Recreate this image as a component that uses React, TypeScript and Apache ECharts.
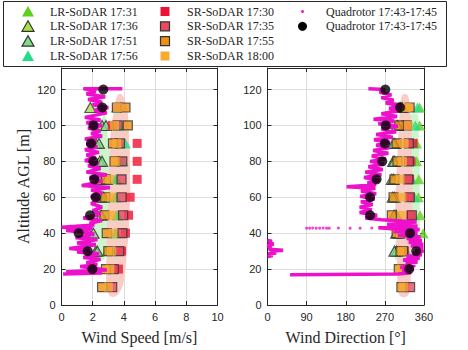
import React, { useEffect, useRef } from 'react';
import * as echarts from 'echarts';

// ---------- data ----------
const altSR = [10, 20, 30, 40, 50, 60, 70, 80, 90, 100, 110];
const altLR = [30, 40, 50, 60, 70, 80, 90, 100, 110];
const altQ = [20, 30, 40, 50, 60, 70, 80, 90, 100, 110, 120];

const lrNames = ['LR-SoDAR 17:31', 'LR-SoDAR 17:36', 'LR-SoDAR 17:51', 'LR-SoDAR 17:56'];
const srNames = ['SR-SoDAR 17:30', 'SR-SoDAR 17:35', 'SR-SoDAR 17:55', 'SR-SoDAR 18:00'];
const quadName = 'Quadrotor 17:43-17:45';

const lr1731Speed = [2.9, 3.5, 3.55, 3.45, 3.55, 3.7, 3.75, 3.6, 3.5];
const lr1736Speed = [2.2, 1.75, 2.3, 2.5, 2.45, 2.45, 2.2, 2.6, 1.85];
const lr1751Speed = [2.3, 2.05, 2.55, 2.7, 2.9, 2.6, 2.4, 2.85, 2.5];
const lr1756Speed = [3.25, 3.45, 3.6, 3.5, 3.45, 3.95, 4.1, 3.7, 3.55];

const lr1731Dir = [300, 358, 351, 347, 348, 343, 343, 350, 350];
const lr1736Dir = [297, 302, 296, 292, 286, 289, 293, 300, 310];
const lr1751Dir = [292, 296, 291, 288, 290, 292, 290, 298, 305];
const lr1756Dir = [320, 330, 335, 338, 332, 330, 335, 340, 345];

const sr1730Speed = [null, 3.65, 3.85, 4.1, 4.3, 4.4, 4.85, 4.85, 4.85, 3.25, null];
const sr1735Speed = [3.25, 3.35, 3.7, 3.9, 3.95, 3.85, 3.85, 3.9, 3.75, 3.6, 3.55];
const sr1755Speed = [2.6, 2.85, 3.0, 2.9, 2.75, 2.8, 2.85, 3.4, 3.3, 4.25, 4.1];
const sr1800Speed = [3.0, 3.1, 3.2, 3.3, 3.25, 3.2, 3.1, 3.45, 3.55, 3.4, 3.6];

const sr1730Dir = [null, 318, 315, 312, 330, 328, 327, 330, 335, 322, null];
const sr1735Dir = [328, 315, 312, 305, 332, 327, 324, 325, 325, 320, 297];
const sr1755Dir = [308, 302, 306, 297, 286, 290, 292, 299, 297, 303, 327];
const sr1800Dir = [312, 308, 310, 305, 308, 309, 305, 310, 314, 324, 320];

const quadMeanSpeed = [1.98, 1.68, 1.1, 1.83, 2.19, 2.1, 2.04, 1.89, 2.05, 2.62, 2.68];
const quadMeanDir = [326, 342, 328, 236, 236, 251, 264, 270, 272, 305, 271];

// spread bands
const bandAltSR = [5, 10, 20, 30, 40, 50, 60, 70, 80, 90, 100, 110, 117];
const srBandSpeedLo = [3.1, 2.9, 2.85, 2.9, 2.9, 2.95, 3.0, 3.0, 3.05, 3.1, 3.2, 3.4, 3.6];
const srBandSpeedHi = [3.5, 3.9, 4.1, 4.2, 4.3, 4.35, 4.4, 4.4, 4.4, 4.35, 4.3, 4.2, 3.9];
const srBandDirLo = [305, 300, 298, 298, 296, 294, 294, 296, 298, 300, 302, 305, 310];
const srBandDirHi = [322, 328, 330, 330, 332, 333, 333, 333, 332, 332, 330, 328, 322];

const bandAltLR = [25, 30, 40, 50, 60, 70, 80, 90, 100, 106];
const lrBandSpeedLo = [2.4, 2.1, 2.05, 2.2, 2.35, 2.4, 2.4, 2.3, 2.5, 2.7];
const lrBandSpeedHi = [2.7, 2.9, 3.2, 3.2, 3.1, 3.0, 3.1, 3.0, 2.9, 2.8];
const lrBandDirLo = [295, 292, 300, 320, 322, 322, 322, 322, 325, 330];
const lrBandDirHi = [320, 330, 350, 350, 350, 350, 350, 348, 348, 345];

// quadrotor trace: [value, altitude]
const quadTraceSpeed = [
  [3.9, 120.5], [1.4, 120.5], [2.2, 119], [1.6, 117.5], [2.8, 116], [1.7, 114.5], [2.6, 113], [2.0, 111.5],
  [3.0, 110], [2.1, 108.5], [2.9, 107], [1.5, 104.5], [2.5, 103], [1.6, 101.5], [2.6, 100], [1.7, 98.5],
  [2.5, 97], [1.9, 95.5], [2.6, 94], [1.5, 92.5], [2.2, 91], [1.6, 89.5], [2.3, 88], [1.5, 86.5], [2.4, 85],
  [1.6, 83.5], [2.2, 82], [1.5, 80.5], [2.4, 79], [1.7, 77.5], [2.5, 76], [1.6, 74], [2.9, 72.5], [1.8, 71],
  [2.6, 69], [1.3, 66.5], [3.1, 65.5], [1.9, 64], [2.6, 62.5], [1.9, 60.5], [2.4, 58.5], [1.9, 56.5],
  [2.6, 54.5], [2.0, 52.5], [2.5, 50.5], [1.4, 48.5], [2.6, 47], [1.8, 45.5], [2.1, 44.5], [0.0, 43.3],
  [2.0, 42.5], [0.3, 41.5], [1.5, 40.5], [2.1, 39.5], [0.9, 37.5], [2.3, 36.5], [1.0, 34.5], [2.2, 33.5],
  [0.5, 31.5], [1.8, 30.5], [1.0, 29.5], [2.4, 28.5], [1.4, 26.5], [2.5, 25.5], [1.6, 23.5], [2.3, 22.5],
  [1.2, 21.5], [2.9, 19.5], [0.3, 18.5], [2.6, 17.8], [0.1, 17.2]
];
const quadTraceDir = [
  [232, 120.5], [270, 120], [258, 118.5], [285, 117], [262, 115.5], [290, 114], [272, 112.5], [310, 111],
  [280, 109.5], [300, 108], [262, 106.5], [298, 105], [244, 103.5], [292, 102.5], [255, 101], [300, 99.5],
  [262, 98], [296, 96.5], [250, 95], [288, 93.5], [245, 92], [282, 90.5], [250, 89], [280, 87.5], [243, 86],
  [278, 84.5], [240, 83], [272, 81.5], [236, 80], [268, 78.5], [232, 77], [265, 75.5], [225, 74], [262, 72.5],
  [222, 71], [258, 69.5], [230, 68], [250, 67], [182, 65.8], [248, 65], [215, 63.5], [250, 62], [213, 60.5],
  [246, 59], [215, 57.5], [242, 56], [212, 54.5], [240, 53], [212, 51.5], [252, 50], [225, 48.5], [262, 47.5],
  [343, 46.2], [275, 45], [345, 44], [300, 43.5], [255, 43], [285, 42.5], [350, 42], [290, 41], [345, 40],
  [300, 39], [352, 38], [320, 37], [355, 36], [325, 35], [358, 34], [330, 33], [358, 32], [340, 31], [359, 30],
  [335, 29], [355, 28], [320, 27], [350, 26], [312, 25], [345, 24], [318, 23], [340, 22], [305, 21], [335, 20],
  [310, 19], [330, 18], [300, 17.3], [52, 16.8]
];
const quadTraceDirWrap = [
  [0, 36], [10, 35.5], [2, 34.5], [14, 34], [0, 33], [8, 32], [3, 31], [36, 30.5], [6, 30], [20, 29],
  [2, 28.5], [12, 27.5], [0, 27]
];
const quadDotsDir = [
  [90, 42.8], [97, 42.8], [104, 42.9], [112, 42.8], [120, 42.8], [128, 42.9], [136, 42.8], [142, 42.8],
  [163, 42.9], [190, 42.8], [213, 42.8], [240, 42.9]
];

// ---------- styles ----------
const FRAME = '#262626';
const lrColors = ['#5fcf1f', '#a8e04a', '#7ddc8c', '#22dd88'];
const lrBorder = [false, true, true, false];
const srColors = ['#ee1133', '#e84a5f', '#f09010', '#f8aa33'];
const srBorder = [false, true, true, false];
const MAGENTA = '#ee11cc';

const pairs = (xs: (number | null)[], ys: number[]) =>
  xs.map((x, i) => [x, ys[i]]).filter((p) => p[0] !== null);

export default function App() {
  const ref = useRef<HTMLDivElement>(null);
  useEffect(() => {
    if (!ref.current) return;
    const chart = echarts.init(ref.current, null, { renderer: 'svg' });

    const tickLabel = { color: FRAME, fontFamily: 'Liberation Sans', fontSize: 11, margin: 6 };
    const axLine = { show: true, onZero: false, lineStyle: { color: FRAME, width: 1 } };
    const axTick = { show: true, inside: true, length: 4, lineStyle: { color: FRAME } };
    const split = { show: true, lineStyle: { color: '#dedede', width: 1 } };
    const nameStyle = { fontFamily: 'Liberation Serif', fontSize: 16, color: FRAME };

    const xMain = (gi: number, max: number, interval: number, name: string) => ({
      type: 'value', gridIndex: gi, min: 0, max, interval, position: 'bottom',
      axisLine: axLine, axisTick: axTick, axisLabel: tickLabel, splitLine: split,
      name, nameLocation: 'middle', nameGap: 24, nameTextStyle: nameStyle,
    });
    const xTop = (gi: number, max: number, interval: number) => ({
      type: 'value', gridIndex: gi, min: 0, max, interval, position: 'top',
      axisLine: axLine, axisTick: axTick, axisLabel: { show: false }, splitLine: { show: false },
    });
    const yMain = (gi: number, name: string) => ({
      type: 'value', gridIndex: gi, min: 0, max: 132, interval: 20, position: 'left',
      axisLine: axLine, axisTick: axTick,
      axisLabel: { ...tickLabel, showMaxLabel: false, formatter: (v: number) => (v % 20 === 0 ? String(v) : '') },
      splitLine: split,
      name, nameLocation: 'middle', nameGap: 30, nameTextStyle: nameStyle,
    });
    const yRight = (gi: number) => ({
      type: 'value', gridIndex: gi, min: 0, max: 132, interval: 20, position: 'right',
      axisLine: axLine, axisTick: axTick, axisLabel: { show: false }, splitLine: { show: false },
    });

    const band = (alts: number[], lo: number[], hi: number[], color: string, xi: number, yi: number) => ({
      type: 'custom', xAxisIndex: xi, yAxisIndex: yi, silent: true, z: 1,
      data: [[lo[0], alts[0]]],
      renderItem: (_p: any, api: any) => {
        const pts: number[][] = [];
        alts.forEach((a, i) => pts.push(api.coord([lo[i], a])));
        for (let i = alts.length - 1; i >= 0; i--) pts.push(api.coord([hi[i], alts[i]]));
        return { type: 'polygon', shape: { points: pts, smooth: 0.35 }, style: { fill: color } };
      },
    });

    const series: any[] = [];
    series.push(band(bandAltLR, lrBandSpeedLo, lrBandSpeedHi, '#ccf5cc', 0, 0));
    series.push(band(bandAltSR, srBandSpeedLo, srBandSpeedHi, '#f9cdc6', 0, 0));
    series.push(band(bandAltLR, lrBandDirLo, lrBandDirHi, '#ccf5cc', 2, 2));
    series.push(band(bandAltSR, srBandDirLo, srBandDirHi, '#f9cdc6', 2, 2));

    const lrSpeed = [lr1731Speed, lr1736Speed, lr1751Speed, lr1756Speed];
    const lrDir = [lr1731Dir, lr1736Dir, lr1751Dir, lr1756Dir];
    const srSpeed = [sr1730Speed, sr1735Speed, sr1755Speed, sr1800Speed];
    const srDir = [sr1730Dir, sr1735Dir, sr1755Dir, sr1800Dir];

    lrNames.forEach((n, i) => {
      const itemStyle = { color: lrColors[i], borderColor: lrBorder[i] ? '#333' : lrColors[i], borderWidth: lrBorder[i] ? 1.2 : 0 };
      series.push({ type: 'scatter', name: n, xAxisIndex: 0, yAxisIndex: 0, z: 2, symbol: 'triangle', symbolSize: [11, 10], itemStyle, data: pairs(lrSpeed[i], altLR) });
      series.push({ type: 'scatter', name: n, xAxisIndex: 2, yAxisIndex: 2, z: 2, symbol: 'triangle', symbolSize: [11, 10], itemStyle, data: pairs(lrDir[i], altLR) });
    });
    srNames.forEach((n, i) => {
      const itemStyle = { color: srColors[i], borderColor: srBorder[i] ? '#333' : srColors[i], borderWidth: srBorder[i] ? 1.2 : 0 };
      series.push({ type: 'scatter', name: n, xAxisIndex: 0, yAxisIndex: 0, z: 3, symbol: 'rect', symbolSize: 9, itemStyle, data: pairs(srSpeed[i], altSR) });
      series.push({ type: 'scatter', name: n, xAxisIndex: 2, yAxisIndex: 2, z: 3, symbol: 'rect', symbolSize: 9, itemStyle, data: pairs(srDir[i], altSR) });
    });

    const traceLine = (data: number[][], xi: number, yi: number) => ({
      type: 'line', name: quadName + ' trace', xAxisIndex: xi, yAxisIndex: yi, z: 4,
      showSymbol: false, symbol: 'none', lineStyle: { color: MAGENTA, width: 3.5 }, data, clip: true,
    });
    series.push(traceLine(quadTraceSpeed, 0, 0));
    series.push(traceLine(quadTraceDir, 2, 2));
    series.push(traceLine(quadTraceDirWrap, 2, 2));
    series.push({ type: 'scatter', name: quadName + ' dots', xAxisIndex: 2, yAxisIndex: 2, z: 4, symbolSize: 3, itemStyle: { color: MAGENTA }, data: quadDotsDir });

    series.push({ type: 'scatter', name: quadName, xAxisIndex: 0, yAxisIndex: 0, z: 5, symbolSize: 10, itemStyle: { color: '#000' }, data: pairs(quadMeanSpeed, altQ) });
    series.push({ type: 'scatter', name: quadName, xAxisIndex: 2, yAxisIndex: 2, z: 5, symbolSize: 10, itemStyle: { color: '#000' }, data: pairs(quadMeanDir, altQ) });

    // legend graphics
    const rowsY = [11.5, 26.3, 41.2, 56];
    const legendFont = { fontFamily: 'Liberation Serif', fontSize: 12, fill: FRAME };
    const graphic: any[] = [
      { type: 'rect', shape: { x: 3.5, y: 1.5, width: 443, height: 65 }, style: { fill: '#fff', stroke: FRAME, lineWidth: 1 }, z: 10 },
    ];
    lrNames.forEach((n, i) => {
      const cx = 28, cy = rowsY[i];
      graphic.push({ type: 'polygon', z: 11, shape: { points: [[cx, cy - 5.5], [cx - 6, cy + 5], [cx + 6, cy + 5]] }, style: { fill: lrColors[i], stroke: lrBorder[i] ? '#333' : null, lineWidth: 1.2 } });
      graphic.push({ type: 'text', z: 11, x: 50, y: cy, style: { ...legendFont, text: n, verticalAlign: 'middle', align: 'left' } });
    });
    srNames.forEach((n, i) => {
      const cx = 165, cy = rowsY[i];
      graphic.push({ type: 'rect', z: 11, shape: { x: cx - 4.5, y: cy - 4.5, width: 9, height: 9 }, style: { fill: srColors[i], stroke: srBorder[i] ? '#333' : null, lineWidth: 1.2 } });
      graphic.push({ type: 'text', z: 11, x: 187, y: cy, style: { ...legendFont, text: n, verticalAlign: 'middle', align: 'left' } });
    });
    graphic.push({ type: 'circle', z: 11, shape: { cx: 302.5, cy: rowsY[0], r: 1.5 }, style: { fill: MAGENTA } });
    graphic.push({ type: 'text', z: 11, x: 326, y: rowsY[0], style: { ...legendFont, text: quadName, verticalAlign: 'middle', align: 'left' } });
    graphic.push({ type: 'circle', z: 11, shape: { cx: 302.5, cy: rowsY[1], r: 4.5 }, style: { fill: '#000' } });
    graphic.push({ type: 'text', z: 11, x: 326, y: rowsY[1], style: { ...legendFont, text: quadName, verticalAlign: 'middle', align: 'left' } });

    chart.setOption({
      animation: false,
      backgroundColor: '#fff',
      grid: [
        { left: 61.5, top: 68, width: 156, height: 242, containLabel: false },
        { left: 267.5, top: 68, width: 156.5, height: 242, containLabel: false },
      ],
      xAxis: [
        xMain(0, 10, 2, 'Wind Speed [m/s]'), xTop(0, 10, 2),
        xMain(1, 360, 90, 'Wind Direction [°]'), xTop(1, 360, 90),
      ],
      yAxis: [
        yMain(0, 'Altitude AGL [m]'), yRight(0),
        yMain(1, ''), yRight(1),
      ],
      series,
      graphic,
    });
    return () => chart.dispose();
  }, []);
  return (
    <div
      ref={ref}
      style={{ position: 'absolute', left: 0, top: 0, width: 468, height: 350, background: '#fff' }}
    />
  );
}
